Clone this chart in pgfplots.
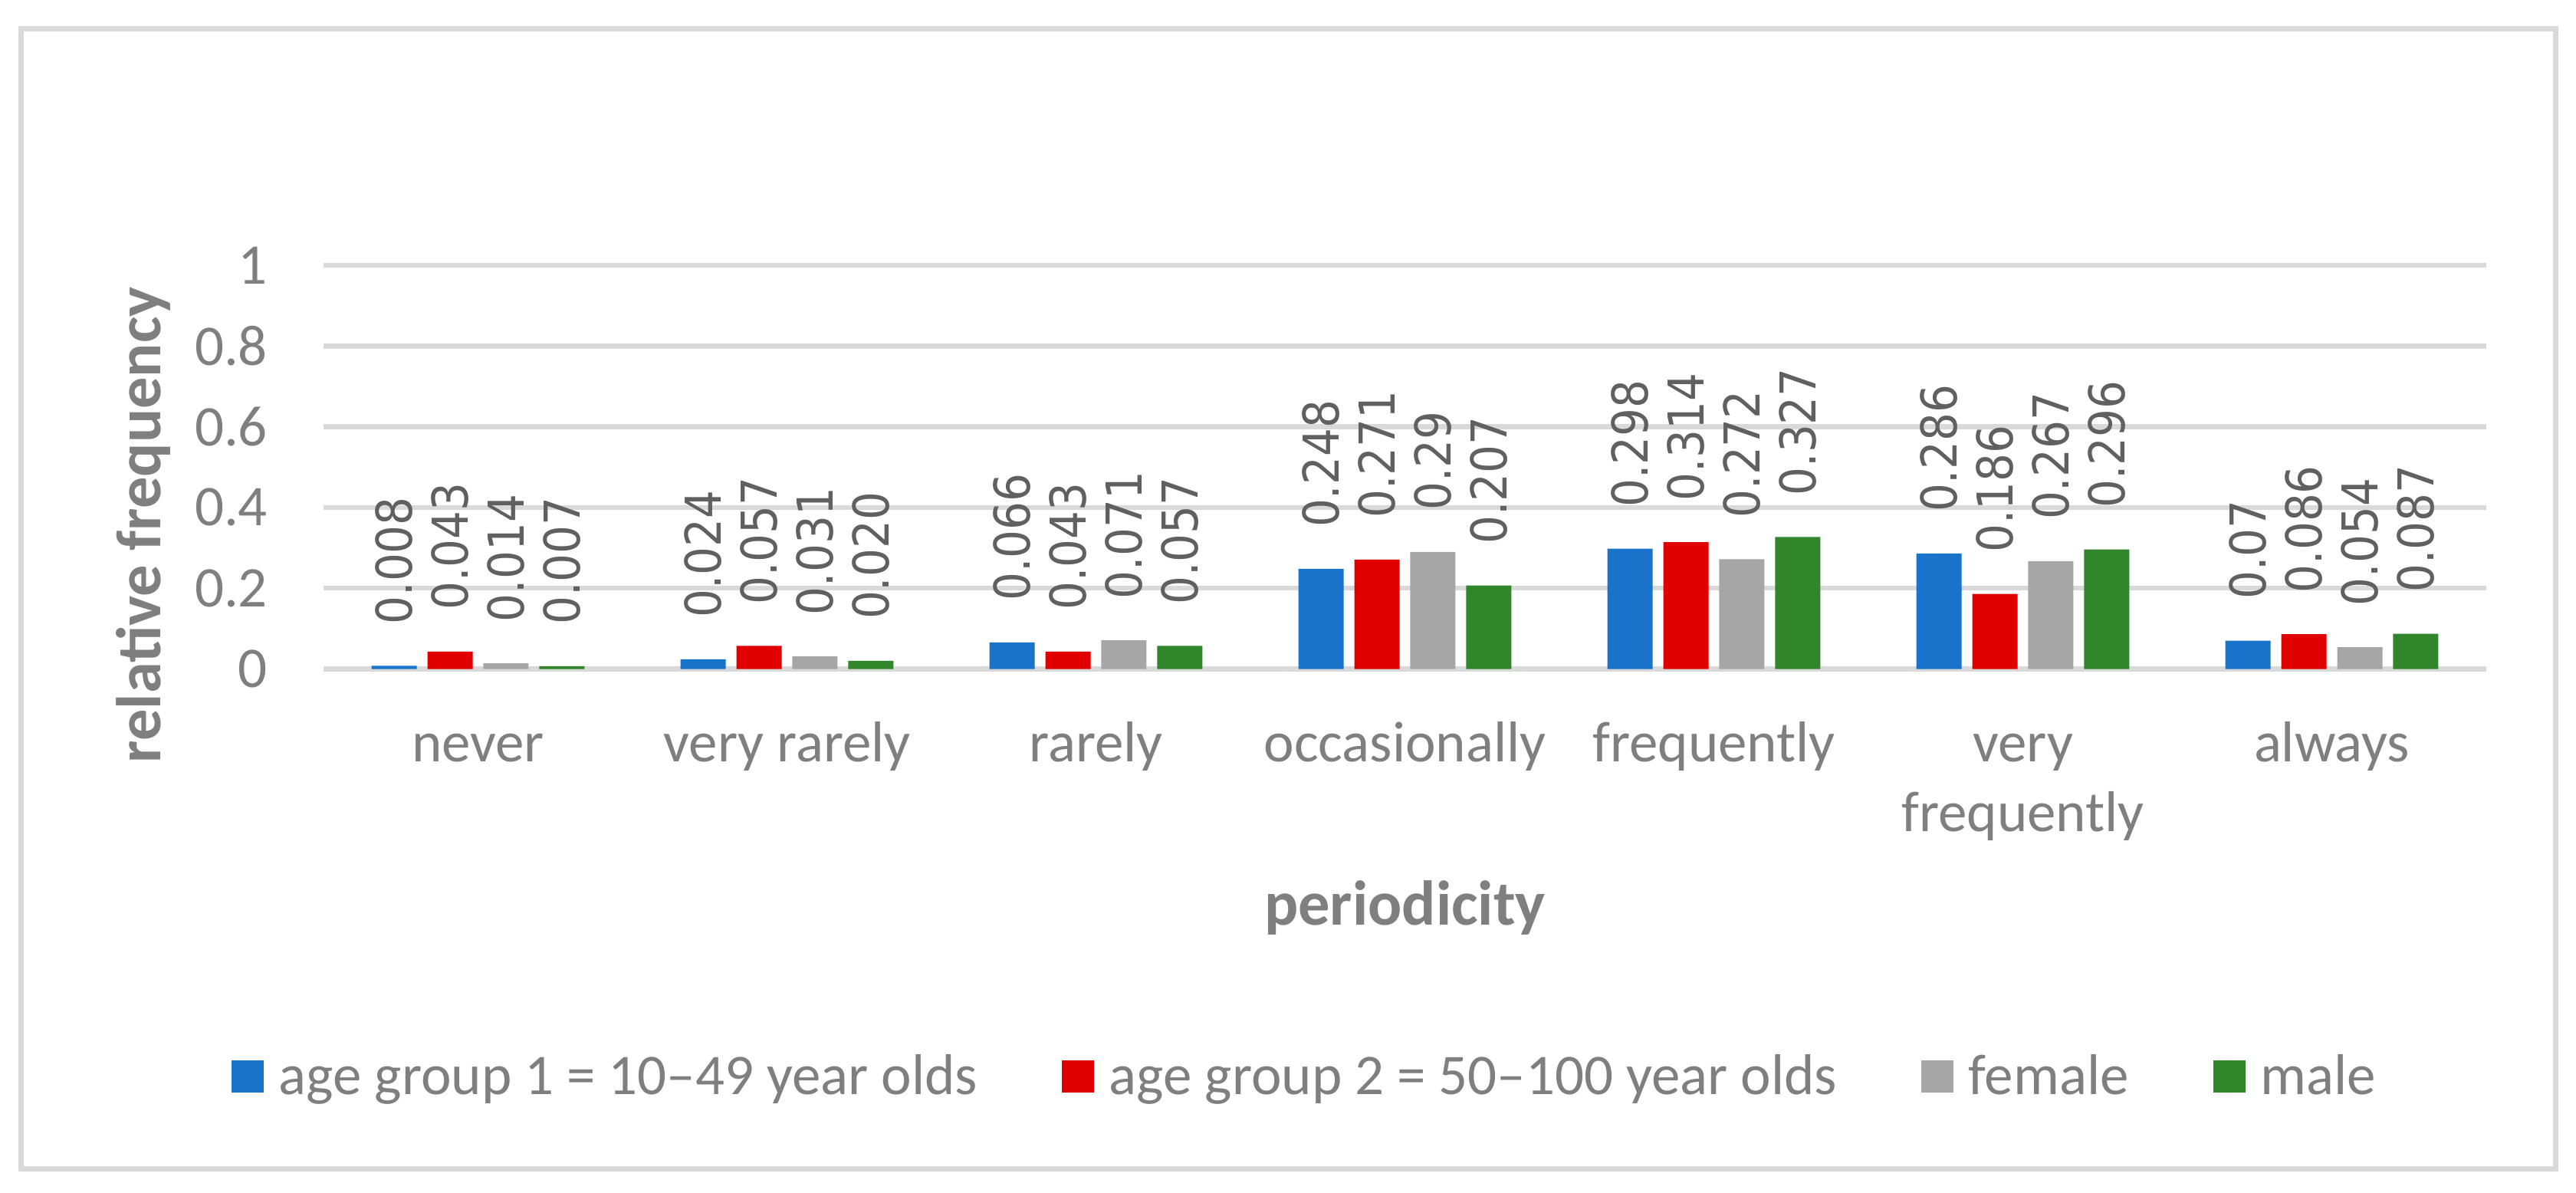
\documentclass[border=0pt]{standalone}
\usepackage{pgfplots}
\pgfplotsset{compat=1.18}
\usepackage{pgfplotstable}
\usepackage{fontspec}
\setmainfont{Carlito}
\newfontfamily\labelfont{DejaVu Sans}[FakeStretch=0.9]

\definecolor{cblue}{HTML}{1873C9}
\definecolor{cred}{HTML}{E00000}
\definecolor{cgray}{HTML}{A6A6A6}
\definecolor{cgreen}{HTML}{31852B}
\definecolor{gridgray}{HTML}{D9D9D9}
\definecolor{tickgray}{HTML}{7F7F7F}
\definecolor{labelgray}{HTML}{606060}

% columns: category, value, printed label for each series
\pgfplotstableread{
x a1 a1l a2 a2l fe fel ma mal
0 0.008 0.008 0.043 0.043 0.014 0.014 0.007 0.007
1 0.024 0.024 0.057 0.057 0.031 0.031 0.020 0.020
2 0.066 0.066 0.043 0.043 0.071 0.071 0.057 0.057
3 0.248 0.248 0.271 0.271 0.29 0.29 0.207 0.207
4 0.298 0.298 0.314 0.314 0.272 0.272 0.327 0.327
5 0.286 0.286 0.186 0.186 0.267 0.267 0.296 0.296
6 0.07 0.07 0.086 0.086 0.054 0.054 0.087 0.087
}\datatable

\newcommand{\txt}{\fontsize{15}{18.2}\selectfont}
\newcommand{\ttl}{\fontsize{16.5}{19}\selectfont\bfseries}

\begin{document}
\begin{tikzpicture}
\useasboundingbox (0,0) rectangle (672pt,311pt);
\draw[gridgray, line width=1.4pt] (5.4pt,6.2pt) rectangle (666.6pt,303.4pt);

\begin{axis}[
  at={(84.4pt,136.5pt)}, anchor=south west,
  scale only axis, width=564.2pt, height=105.3pt,
  ybar, bar width=0.1464,
  xmin=-0.5, xmax=6.5, ymin=0, ymax=1,
  axis line style={draw=none},
  major tick length=0pt,
  ytick={0,0.2,0.4,0.6,0.8,1},
  ymajorgrids,
  major grid style={gridgray, line width=1.3pt},
  xtick={0,1,2,3,4,5,6},
  xticklabels={\strut never, \strut very rarely, \strut rarely, \strut occasionally,
    \strut frequently, {\strut very\\frequently}, \strut always},
  xticklabel style={align=center, anchor=north, inner sep=0pt, yshift=-11.2pt,
    font=\txt, text=tickgray},
  yticklabel style={anchor=east, inner sep=0pt, xshift=-14.4pt, font=\txt, text=tickgray},
  /pgf/number format/assume math mode=true,
  xlabel={periodicity},
  ylabel={relative frequency},
  every axis x label/.style={at={(axis description cs:0.5,-0.6353)}, anchor=base},
  every axis y label/.style={at={(axis description cs:-0.0752,0.357)}, rotate=90, anchor=base},
  xlabel style={font=\ttl, text=tickgray},
  ylabel style={font=\ttl, text=tickgray},
  point meta=explicit symbolic,
  nodes near coords,
  every node near coord/.append style={rotate=90, anchor=west, inner xsep=10.6pt, inner ysep=0pt,
    font=\labelfont\fontsize{12.9}{15}\selectfont, text=labelgray},
  legend columns=4,
  legend image code/.code={\fill[#1] (0pt,-4pt) rectangle (8.4pt,4.4pt);},
  legend style={at={(axis description cs:-0.0429,-1.0114)}, anchor=west,
    draw=none, fill=none, inner sep=0pt, font=\txt, text=tickgray,
    nodes={inner sep=0pt},
    column sep=4pt,
    /tikz/every even column/.append style={column sep=22pt}},
  legend cell align=left,
]
\addplot[fill=cblue, draw=none, bar shift=-0.2715] table[x=x, y=a1, meta=a1l] {\datatable};
\addplot[fill=cred, draw=none, bar shift=-0.0905] table[x=x, y=a2, meta=a2l] {\datatable};
\addplot[fill=cgray, draw=none, bar shift=0.0905] table[x=x, y=fe, meta=fel] {\datatable};
\addplot[fill=cgreen, draw=none, bar shift=0.2715] table[x=x, y=ma, meta=mal] {\datatable};
\legend{age group 1 = 10--49 year olds, age group 2 = 50--100 year olds, female, male}
\end{axis}
\end{tikzpicture}
\end{document}
